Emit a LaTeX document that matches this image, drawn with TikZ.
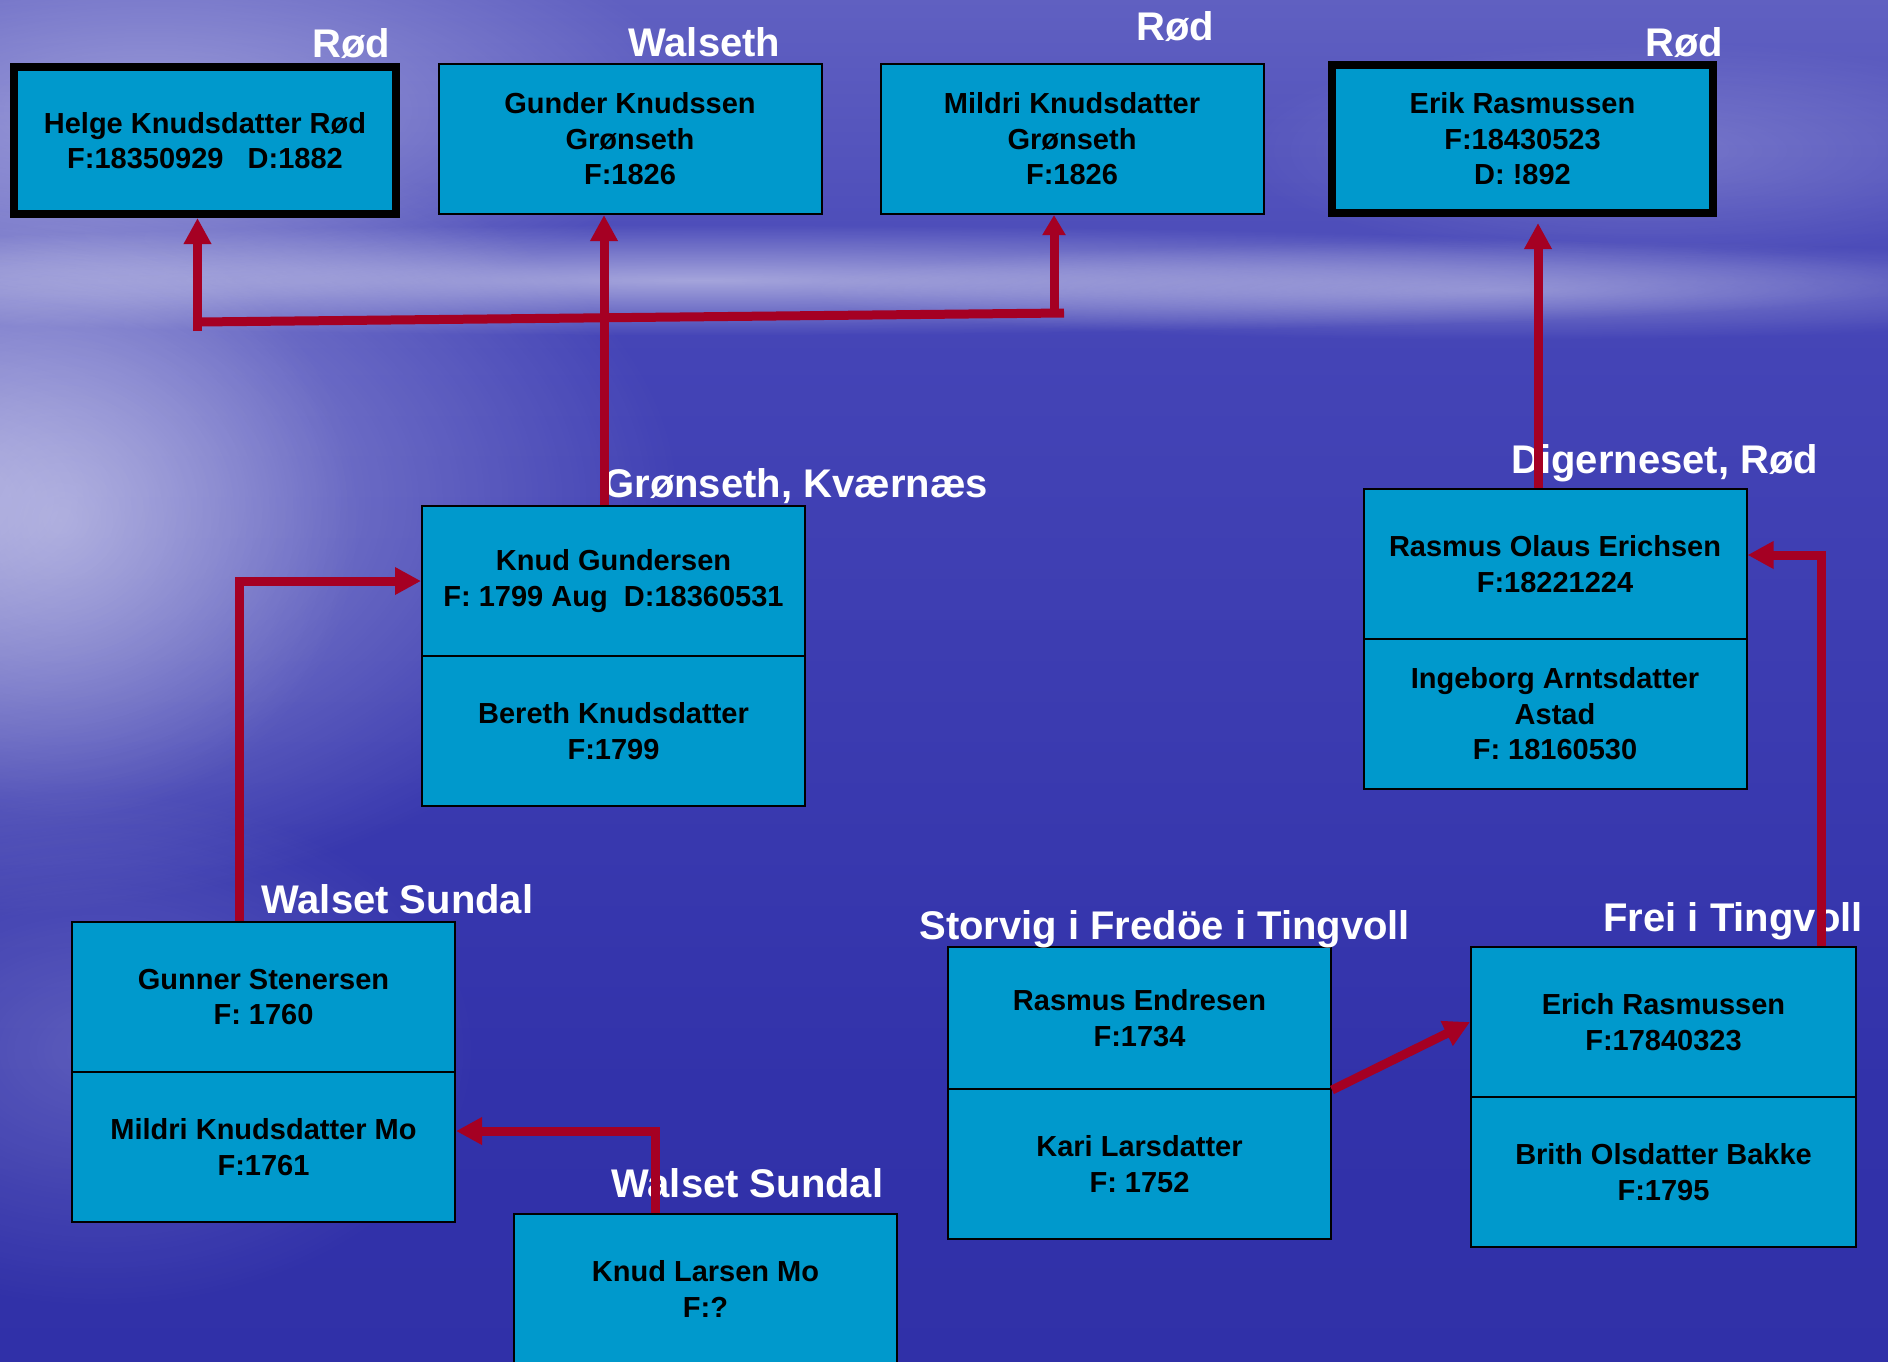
\documentclass[tikz,border=0pt]{standalone}
\usepackage{fontspec}
\setmainfont{Liberation Sans}
\usetikzlibrary{arrows.meta,fadings,calc}
\tikzfading[name=glow, inner color=transparent!0, outer color=transparent!100]
\definecolor{boxc}{RGB}{0,153,204}
\definecolor{linec}{RGB}{165,0,35}
\definecolor{bg0}{RGB}{44,44,162}
\definecolor{bg1}{RGB}{50,50,170}
\definecolor{bg2}{RGB}{68,68,182}
\definecolor{bg3}{RGB}{98,98,194}
\definecolor{bg4}{RGB}{108,104,200}
\definecolor{bg5}{RGB}{94,88,190}
\pgfdeclareverticalshading{bgsh}{100bp}{color(0bp)=(bg0); color(35bp)=(bg1); color(62bp)=(bg2); color(76bp)=(bg3); color(86bp)=(bg4); color(100bp)=(bg5)}
\begin{document}
\begin{tikzpicture}[x=0.5pt,y=-0.5pt,
  person/.style={draw=black, line width=1pt, fill=boxc, rectangle, minimum width=191.5pt, minimum height=75pt, inner sep=0pt, align=center, font=\bfseries\fontsize{14.5}{17.75}\selectfont, text=black},
  heavybox/.style={person, line width=4pt},
  place/.style={inner sep=0pt, anchor=base west, text=white, font=\bfseries\fontsize{20}{24}\selectfont},
  link/.style={draw=linec, line width=4.5pt},
  arr/.style={link, -{Triangle[length=13pt,width=13pt]}},
  smallarr/.style={link, -{Triangle[length=10pt,width=11pt]}},
]
\useasboundingbox (0,0) rectangle (1888,1361);
\clip (0,0) rectangle (1888,1361);
% background
\shade[shading=bgsh] (0,0) rectangle (1888,1361);
\fill[white, opacity=0.5, path fading=glow] (-80,500) ellipse [x radius=760, y radius=420];
\fill[white, opacity=0.3, path fading=glow] (60,520) ellipse [x radius=300, y radius=300];
\fill[white, opacity=0.4, path fading=glow] (150,110) ellipse [x radius=560, y radius=200];
\fill[white, opacity=0.5, path fading=glow] (700,280) ellipse [x radius=1250, y radius=55];
\fill[white, opacity=0.3, path fading=glow] (1500,290) ellipse [x radius=700, y radius=50];
\fill[white, opacity=0.2, path fading=glow] (1650,150) ellipse [x radius=420, y radius=110];
\fill[white, opacity=0.2, path fading=glow] (100,1050) ellipse [x radius=380, y radius=260];

% persons
\node[heavybox, minimum width=191pt, minimum height=73.5pt] (helge) at (205,140.5) {Helge Knudsdatter Rød\\F:18350929~~~D:1882};
\node[person] (gunder) at (630,139) {Gunder Knudssen\\Grønseth\\F:1826};
\node[person] (mildriG) at (1072,139) {Mildri Knudsdatter\\Grønseth\\F:1826};
\node[heavybox, minimum width=190.5pt, minimum height=74pt] (erik) at (1522.5,139) {Erik Rasmussen\\F:18430523\\D: !892};
\node[person] (knud) at (613.5,581) {Knud Gundersen\\F: 1799 Aug~~D:18360531};
\node[person] (bereth) at (613.5,731) {Bereth Knudsdatter\\F:1799};
\node[person] (rasmusO) at (1555,564) {Rasmus Olaus Erichsen\\F:18221224};
\node[person] (ingeborg) at (1555,714) {Ingeborg Arntsdatter\\Astad\\F: 18160530};
\node[person] (gunner) at (263.5,997) {Gunner Stenersen\\F: 1760};
\node[person] (mildriMo) at (263.5,1147) {Mildri Knudsdatter Mo\\F:1761};
\node[person] (knudL) at (705.5,1289) {Knud Larsen Mo\\F:?};
\node[person, minimum height=71pt] (rasmusE) at (1139.5,1018) {Rasmus Endresen\\F:1734};
\node[person] (kari) at (1139.5,1164) {Kari Larsdatter\\F: 1752};
\node[person, minimum width=192.5pt] (erich) at (1663.5,1022) {Erich Rasmussen\\F:17840323};
\node[person, minimum width=192.5pt] (brith) at (1663.5,1172) {Brith Olsdatter Bakke\\F:1795};

% place labels
\node[place] (lRod1) at (312,57) {Rød};
\node[place] (lWalseth) at (628,56) {Walseth};
\node[place] (lRod2) at (1136,40) {Rød};
\node[place] (lRod3) at (1645,56) {Rød};
\node[place] (lGron) at (603,497) {Grønseth, Kværnæs};
\node[place] (lDiger) at (1511,473) {Digerneset, Rød};
\node[place] (lWalset1) at (261,913) {Walset Sundal};
\node[place] (lWalset2) at (611,1197) {Walset Sundal};
\node[place] (lStorvig) at (919,939) {Storvig i Fredöe i Tingvoll};
\node[place] (lFrei) at (1603,931) {Frei i Tingvoll};

% connectors
\coordinate (hL) at (197.5,331);
\coordinate (hLt) at (197.5,322);
\coordinate (hR) at (1064,313);
\coordinate (mX) at (604,0);
\coordinate (rB) at (1054,313);
\coordinate (eX) at (1538,0);
\coordinate (gX) at (239,0);
\coordinate (kT) at (655,1131);
\coordinate (fT) at (1821,555);

\draw[link] (hLt) -- (hR);
\draw[arr] (hL) -- (hL |- helge.south);
\draw[arr] (knud.north -| mX) -- (gunder.south -| mX);
\draw[smallarr] (rB) -- (rB |- mildriG.south);
\draw[arr, shorten >=3pt] (rasmusO.north -| eX) -- (erik.south -| eX);
\draw[arr] (gunner.north -| gX) |- (knud.west);
\draw[arr] (knudL.north -| kT) |- (mildriMo.east |- kT);
\draw[arr] (erich.north -| fT) |- (rasmusO.east |- fT);
\draw[arr] (rasmusE.south east) -- (erich.west);
\end{tikzpicture}
\end{document}
